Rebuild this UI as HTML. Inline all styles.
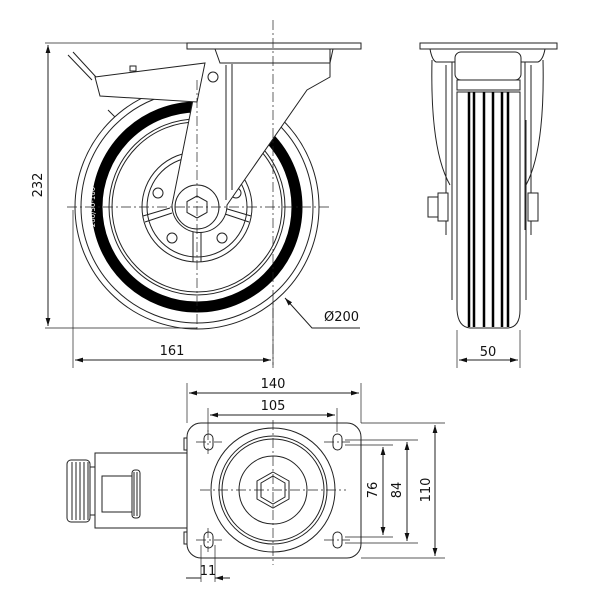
<!DOCTYPE html>
<html><head><style>body{margin:0;background:#fff}svg{display:block}text{font-family:"DejaVu Sans","Liberation Sans",sans-serif;font-size:13px;fill:#111}</style></head><body>
<svg width="600" height="600" viewBox="0 0 600 600" xmlns="http://www.w3.org/2000/svg">
<defs><marker id="a" viewBox="0 0 10 10" refX="10" refY="5" markerWidth="8" markerHeight="8" orient="auto-start-reverse"><path d="M0,2 L10,5 L0,8 z" fill="#111"/></marker></defs>
<g fill="none" stroke="#222" stroke-width="1">
<circle cx="197" cy="207" r="122"/>
<circle cx="197" cy="207" r="116"/>
<circle cx="197" cy="207" r="100" stroke="#000" stroke-width="11"/>
<circle cx="197" cy="207" r="88"/>
<circle cx="197" cy="207" r="85"/>
<circle cx="197" cy="207" r="55"/>
<circle cx="197" cy="207" r="50"/>
<circle cx="158" cy="193" r="5"/><circle cx="236" cy="193" r="5"/>
<circle cx="172" cy="238" r="5"/><circle cx="222" cy="238" r="5"/>
<path d="M193,230 V262 M201,230 V262 M143,216 L170,208 M145,222 L172,213 M251,216 L224,208 M249,222 L222,213"/>
<path d="M200,65 L172,205 A25,25 0 0 0 227,205 L307,90 L330,77 L330,48" fill="#fff"/>
<path d="M226,65 L226,200 M232,64 L232,190"/>
<rect x="187" y="43" width="174" height="6" fill="#fff"/>
<path d="M215,49 L220,63 L330,63 L333,49"/>
<circle cx="197" cy="207" r="22" fill="#fff"/>
<polygon points="197,196 207,201.5 207,212.5 197,218 187,212.5 187,201.5" fill="#fff"/>
<circle cx="213" cy="77" r="5"/>
<path d="M95,77 L205,63 L197,102 L100,96 Z" fill="#fff"/>
<path d="M68,55 L92,80 M73,52 L96,77"/>
<rect x="130" y="66" width="6" height="5"/>
<path d="M108,110 L115,117"/>
<path d="M67,207 H330 M273,20 V365 M197,80 V330" stroke-dasharray="10,3,2,3" stroke-width="0.7"/>
<path d="M45,43 H187 M45,328 H197 M73,210 V368 M273,300 V368" stroke-width="0.7"/>
<path d="M48,45 V326" marker-start="url(#a)" marker-end="url(#a)"/>
<path d="M75,360 H271" marker-start="url(#a)" marker-end="url(#a)"/>
<path d="M360,328 H312 L285,298" marker-end="url(#a)"/>
<rect x="420" y="43" width="137" height="6" fill="#fff"/>
<path d="M430,49 Q432,60 436,62 L538,62 Q543,60 545,49"/>
<path d="M432,60 Q430,150 450,185 M543,60 Q545,150 526,185"/>
<path d="M446,65 V235 M452,62 V230 M531,65 V235 M525,62 V230"/>
<rect x="455" y="52" width="66" height="28" rx="6" fill="#fff"/>
<rect x="457" y="80" width="63" height="10" fill="#fff"/>
<path d="M457,92 L457,310 Q458,327 470,328 L508,328 Q520,327 520,310 L520,92 Z" fill="#fff"/>
<path d="M469,92 V327 M474,92 V327 M484,92 V327 M493,92 V327 M502,92 V327 M508,92 V327" stroke="#000" stroke-width="2.5"/>
<path d="M452,120 V300 M526,120 V300"/>
<rect x="428" y="197" width="10" height="20" fill="#fff"/><rect x="438" y="193" width="10" height="28" fill="#fff"/>
<rect x="528" y="193" width="10" height="28" fill="#fff"/>
<path d="M457,330 V368 M520,330 V368" stroke-width="0.7"/>
<path d="M459,360 H518" marker-start="url(#a)" marker-end="url(#a)"/>
<rect x="95" y="453" width="92" height="75" fill="#fff"/>
<rect x="67" y="460" width="23" height="62" rx="4" fill="#fff"/>
<path d="M72,462 V520 M76,462 V520 M80,462 V520 M84,462 V520 M88,462 V520"/>
<rect x="90" y="467" width="5" height="48"/>
<rect x="102" y="476" width="30" height="36"/>
<rect x="132" y="470" width="8" height="48" rx="3"/>
<path d="M134,472 V516 M137,472 V516"/>
<rect x="187" y="423" width="174" height="135" rx="14" fill="#fff"/>
<rect x="184" y="438" width="3" height="12"/><rect x="184" y="532" width="3" height="12"/>
<circle cx="273" cy="490" r="62"/><circle cx="273" cy="490" r="54"/><circle cx="273" cy="490" r="51"/><circle cx="273" cy="490" r="34"/>
<polygon points="273,472 289,481 289,499 273,508 257,499 257,481"/>
<polygon points="273,476 285,483 285,497 273,504 261,497 261,483"/>
<rect x="204" y="434" width="9" height="16" rx="4.5"/><rect x="333" y="434" width="9" height="16" rx="4.5"/>
<rect x="204" y="532" width="9" height="16" rx="4.5"/><rect x="333" y="532" width="9" height="16" rx="4.5"/>
<path d="M273,420 V565 M200,490 H346 M196,442 H222 M196,540 H222 M324,442 H350 M324,540 H350 M208,430 V454 M208,528 V552" stroke-dasharray="10,3,2,3" stroke-width="0.7"/>
<path d="M187,383 V423 M361,383 V423 M208,408 V432 M337,408 V432 M361,423 H445 M361,558 H445 M345,440 H418 M345,543 H418 M345,445 H393 M345,537 H393 M201,545 V582 M215,545 V582" stroke-width="0.7"/>
<path d="M189,393 H359" marker-start="url(#a)" marker-end="url(#a)"/>
<path d="M210,415 H335" marker-start="url(#a)" marker-end="url(#a)"/>
<path d="M435,425 V556" marker-start="url(#a)" marker-end="url(#a)"/>
<path d="M407,442 V541" marker-start="url(#a)" marker-end="url(#a)"/>
<path d="M383,447 V535" marker-start="url(#a)" marker-end="url(#a)"/>
<path d="M186,578 H201 M230,578 H215" marker-end="url(#a)"/>
</g>
<text x="324" y="321">Ø200</text>
<text x="172" y="355" text-anchor="middle">161</text>
<text x="42" y="185" text-anchor="middle" transform="rotate(-90 42 185)">232</text>
<text x="488" y="356" text-anchor="middle">50</text>
<text x="273" y="388" text-anchor="middle">140</text>
<text x="273" y="410" text-anchor="middle">105</text>
<text x="208" y="575" text-anchor="middle">11</text>
<text x="430" y="490" text-anchor="middle" transform="rotate(-90 430 490)">110</text>
<text x="401" y="490" text-anchor="middle" transform="rotate(-90 401 490)">84</text>
<text x="377" y="490" text-anchor="middle" transform="rotate(-90 377 490)">76</text>
<text x="95" y="207" text-anchor="middle" transform="rotate(-90 95 207)" style="font-size:7px;fill:#fff">200/50-100</text>
</svg>
</body></html>
